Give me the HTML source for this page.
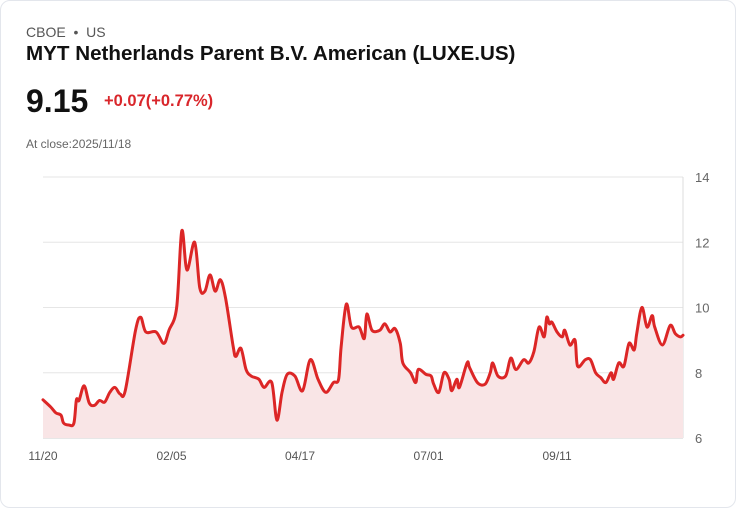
<!DOCTYPE html>
<html><head><meta charset="utf-8">
<style>
body{margin:0;background:#fff;font-family:"Liberation Sans",Arial,sans-serif;}
.card{position:absolute;left:0;top:0;width:734px;height:506px;border:1px solid #e3e6ec;border-radius:10px;background:#fff;}
.t{position:absolute;white-space:nowrap;}
</style></head><body>
<div class="card">
<div class="t" style="left:25px;top:23px;font-size:14px;color:#555;">CBOE &nbsp;•&nbsp; US</div>
<div class="t" style="left:25px;top:41px;font-size:20.6px;font-weight:bold;color:#111;">MYT Netherlands Parent B.V. American (LUXE.US)</div>
<div class="t" style="left:25px;top:82px;font-size:32px;font-weight:bold;color:#111;">9.15</div>
<div class="t" style="left:103px;top:91px;font-size:16.5px;font-weight:bold;color:#d9262b;">+0.07(+0.77%)</div>
<div class="t" style="left:25px;top:136px;font-size:12px;color:#666;">At close:2025/11/18</div>
<svg id="chart" width="736" height="508" style="position:absolute;left:-1px;top:-1px"></svg>
</div>
<script>
const days=[0,3,5,7,8,10,12,13,14,16,18,20,22,24,26,28,30,32,36,38,40,44,47,49,52,54,56,59,61,63,65,67,69,71,74,75,77,79,81,84,86,89,91,93,95,98,101,104,107,110,113,115,116,118,120,123,125,126,128,131,133,135,137,139,140,143,145,146,149,151,152,154,156,158,159,161,162,165,166,169,172,174,175,177,180,182,184,187,189,191,193,195,196,197,198,200,202,203,205,207,208,211,213,215,217,219,221,222,224,226,228,230,231,233,235,237,238,241,244,246,248,249];
const prices=[7.17,6.95,6.77,6.7,6.46,6.4,6.45,7.17,7.15,7.6,7.07,7.0,7.15,7.1,7.4,7.55,7.35,7.45,9.3,9.7,9.25,9.25,8.9,9.3,10.0,12.35,11.15,12.0,10.6,10.5,11.0,10.5,10.85,10.3,8.8,8.5,8.75,8.1,7.9,7.8,7.55,7.7,6.55,7.4,7.95,7.9,7.45,8.4,7.8,7.4,7.7,7.8,8.8,10.1,9.4,9.4,9.05,9.8,9.3,9.3,9.5,9.25,9.35,8.9,8.3,8.0,7.7,8.1,7.95,7.9,7.65,7.4,8.0,7.8,7.45,7.8,7.55,8.3,8.15,7.7,7.65,8.0,8.3,7.9,7.9,8.45,8.1,8.4,8.3,8.65,9.4,9.1,9.7,9.5,9.55,9.25,9.1,9.3,8.85,9.0,8.2,8.4,8.4,8.0,7.85,7.7,8.0,7.8,8.3,8.2,8.9,8.7,9.2,10.0,9.4,9.75,9.4,8.85,9.45,9.2,9.1,9.15];
const yTicks=[6,8,10,12,14];
const xTickDays=[0,50,100,150,200];
const xTickLabels=["11/20","02/05","04/17","07/01","09/11"];
const L=43,R=683,T=177,B=438,maxDay=249;
const X=d=>L+(R-L)*d/maxDay;
const Y=v=>B-(B-T)*(v-6)/8;
const svg=document.getElementById('chart');
const NS='http://www.w3.org/2000/svg';
function mk(tag,attrs){const e=document.createElementNS(NS,tag);for(const k in attrs)e.setAttribute(k,attrs[k]);svg.appendChild(e);return e;}
yTicks.forEach(v=>{
  const g=mk('line',{x1:L,x2:R,y1:Y(v),y2:Y(v),stroke:v===6?'#cfcfcf':'#e6e6e6','stroke-width':1});
  
  
  const t=mk('text',{x:695,y:Y(v)+5,'font-size':13,fill:'#666','font-family':'Liberation Sans, sans-serif'});
  t.textContent=v;
  
  
});
const ax=mk('line',{x1:R,x2:R,y1:T,y2:B,stroke:'#dcdcdc','stroke-width':1});


xTickDays.forEach((d,i)=>{
  const t=mk('text',{x:X(d),y:460,'font-size':12,fill:'#555','text-anchor':'middle','font-family':'Liberation Sans, sans-serif'});
  t.textContent=xTickLabels[i];
  
  
});
const pts=days.map((d,i)=>[X(d),Y(prices[i])]);
function smooth(p){let s='M'+p[0][0]+','+p[0][1];for(let i=0;i<p.length-1;i++){const p0=p[i-1]||p[i],p1=p[i],p2=p[i+1],p3=p[i+2]||p2;const c1x=p1[0]+(p2[0]-p0[0])/6,c1y=p1[1]+(p2[1]-p0[1])/6,c2x=p2[0]-(p3[0]-p1[0])/6,c2y=p2[1]-(p3[1]-p1[1])/6;s+=`C${c1x},${c1y} ${c2x},${c2y} ${p2[0]},${p2[1]}`;}return s;}
const d=smooth(pts);
const area=mk('path',{d:d+`L${X(days[days.length-1])},${B}L${X(0)},${B}Z`,fill:'#f9e5e6'});


const line=mk('path',{d:d,fill:'none',stroke:'#dc2626','stroke-width':3,'stroke-linejoin':'round','stroke-linecap':'round'});


</script>
</body></html>
